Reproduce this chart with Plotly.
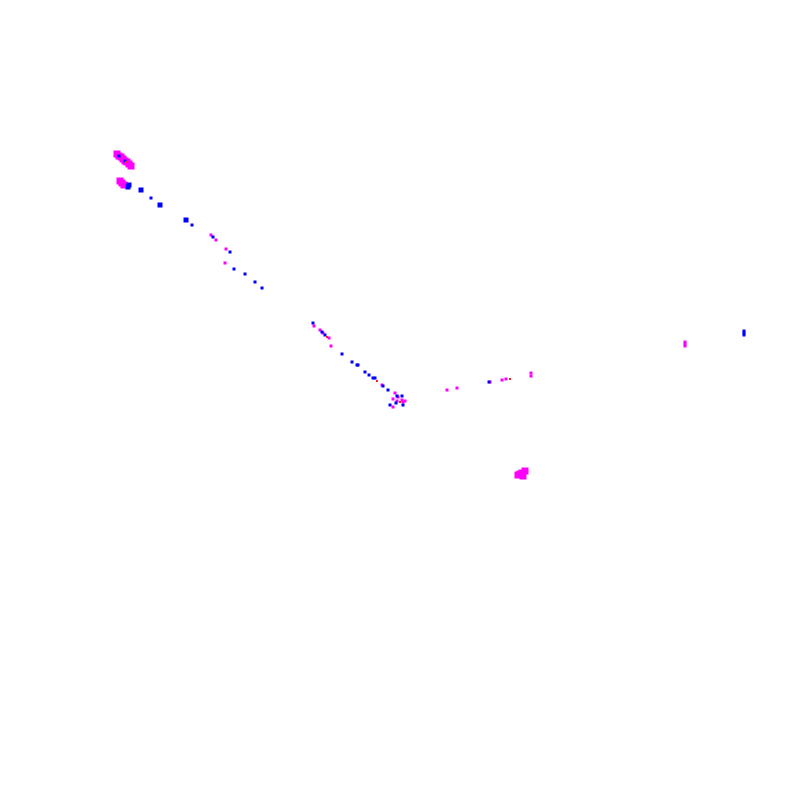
import plotly.graph_objects as go

# point cloud (pixel-like units, y grows downwards)
magenta_big_x = [117, 119, 121, 123, 125, 127, 129, 131, 120, 122, 124, 518, 520, 522, 523, 525]
magenta_big_y = [154, 156, 157, 159, 161, 162, 164, 166, 181, 183, 185, 475, 474, 473, 476, 471]

magenta_small_x = [211, 216, 226, 225, 314, 320, 323, 329, 331, 382, 395, 398, 402, 393,
                   397, 403, 393, 405, 447, 457, 490, 502, 506, 531, 531, 685, 685, 685]
magenta_small_y = [235, 240, 249, 263, 326, 330, 333, 338, 346, 385, 393, 397, 400, 399,
                   401, 402, 407, 401, 390, 388, 382, 380, 379, 373, 376, 342, 344, 346]

blue_big_x = [128, 129, 141, 160, 186]
blue_big_y = [187, 185, 190, 205, 220]

blue_small_x = [119, 125, 151, 192, 213, 230, 234, 245, 255, 262, 313, 322, 325, 342,
                352, 357, 358, 365, 369, 373, 375, 383, 388, 397, 402, 396, 403, 390,
                489, 744, 744, 744]
blue_small_y = [156, 161, 198, 225, 237, 252, 269, 274, 282, 288, 323, 332, 335, 354,
                362, 365, 365, 372, 375, 378, 378, 386, 390, 396, 396, 403, 405, 405,
                382, 331, 333, 335]

red_x = [126, 327, 377, 400, 510]
red_y = [162, 337, 381, 402, 379]

fig = go.Figure()

groups = [
    (magenta_big_x, magenta_big_y, "#ff00ff", 7),
    (magenta_small_x, magenta_small_y, "#ff00ff", 3),
    (blue_big_x, blue_big_y, "#0000ff", 5),
    (blue_small_x, blue_small_y, "#0000ff", 3),
    (red_x, red_y, "#ff2020", 2),
]
for gx, gy, col, sz in groups:
    fig.add_trace(go.Scatter(
        x=gx, y=gy, mode="markers",
        marker=dict(color=col, size=sz, symbol="square", line=dict(width=0)),
        showlegend=False, hoverinfo="skip",
    ))

# the page body adds ~8px, so shift the ranges to keep marks in place
fig.update_layout(
    width=800, height=800,
    margin=dict(l=0, r=0, t=0, b=0),
    paper_bgcolor="white", plot_bgcolor="white",
    xaxis=dict(range=[8, 808], visible=False, fixedrange=True),
    yaxis=dict(range=[808, 8], visible=False, fixedrange=True),
)

fig.write_html("out.html")
